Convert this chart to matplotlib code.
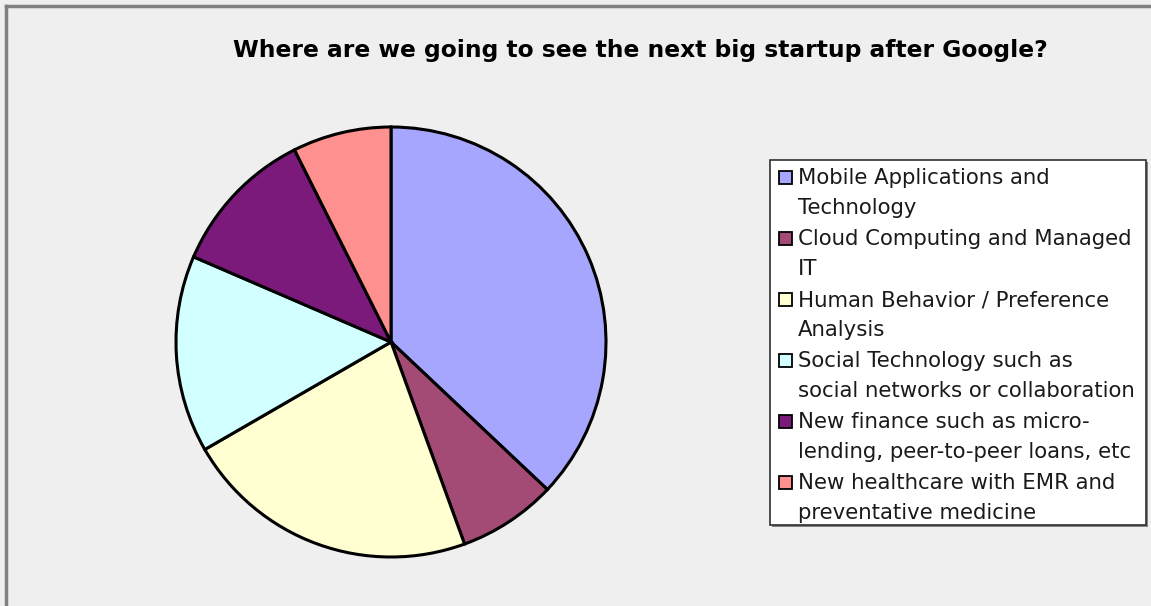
import matplotlib
matplotlib.use("Agg")
import matplotlib.pyplot as plt
from matplotlib.patches import Rectangle
from matplotlib.lines import Line2D

title = "Where are we going to see the next big startup after Google?"
categories = [
    "Mobile Applications and\nTechnology",
    "Cloud Computing and Managed\nIT",
    "Human Behavior / Preference\nAnalysis",
    "Social Technology such as\nsocial networks or collaboration",
    "New finance such as micro-\nlending, peer-to-peer loans, etc",
    "New healthcare with EMR and\npreventative medicine",
]
values = [20, 4, 12, 8, 6, 4]
colors = ["#A6A6FF", "#A34B75", "#FFFFD2", "#D2FFFF", "#7C1A7C", "#FF9090"]

W, H = 1151, 606
fig = plt.figure(figsize=(W / 100, H / 100), dpi=100)
fig.patch.set_facecolor("#EFEFEF")

def fx(px):
    return px / W

def fy(py):
    return 1 - py / H

# outer border (left and top)
fig.add_artist(Line2D([fx(6), fx(6)], [fy(6), 0], transform=fig.transFigure, color="#808080", lw=2.5))
fig.add_artist(Line2D([fx(6), 1], [fy(6), fy(6)], transform=fig.transFigure, color="#808080", lw=2.5))

# pie axes: center (391,342), radius 215
cx, cy, r = 391, 342, 215
ax = fig.add_axes([fx(cx - r), fy(cy + r), fx(2 * r), (2 * r) / H])
ax.pie(values, colors=colors, startangle=90, counterclock=False,
       wedgeprops=dict(edgecolor="black", linewidth=2.2), radius=1.0)
ax.set_xlim(-1.0, 1.0)
ax.set_ylim(-1.0, 1.0)
ax.set_aspect("auto")
ax.axis("off")

fig.text(fx(640), fy(50), title, ha="center", va="center",
         fontsize=16.8, fontweight="bold", color="black", family="DejaVu Sans")

# legend box
lx0, ly0, lx1, ly1 = 770, 160, 1146, 525
fig.add_artist(Rectangle((fx(lx0 + 2), fy(ly1 + 2)), fx(lx1 - lx0), (ly1 - ly0) / H,
                         transform=fig.transFigure, facecolor="#808080", edgecolor="none"))
fig.add_artist(Rectangle((fx(lx0), fy(ly1)), fx(lx1 - lx0), (ly1 - ly0) / H,
                         transform=fig.transFigure, facecolor="white", edgecolor="#303030", lw=1.2))

for i, (lab, col) in enumerate(zip(categories, colors)):
    y_first = 178 + i * 61
    fig.add_artist(Rectangle((fx(779), fy(y_first + 6)), fx(13), 13 / H,
                             transform=fig.transFigure, facecolor=col, edgecolor="black", lw=1.3))
    lines = lab.split("\n")
    for j, ln in enumerate(lines):
        fig.text(fx(798), fy(y_first + j * 30), ln, ha="left", va="center",
                 fontsize=15.3, color="#1A1A1A", family="DejaVu Sans")

fig.savefig("out.png", dpi=100, facecolor=fig.get_facecolor())
